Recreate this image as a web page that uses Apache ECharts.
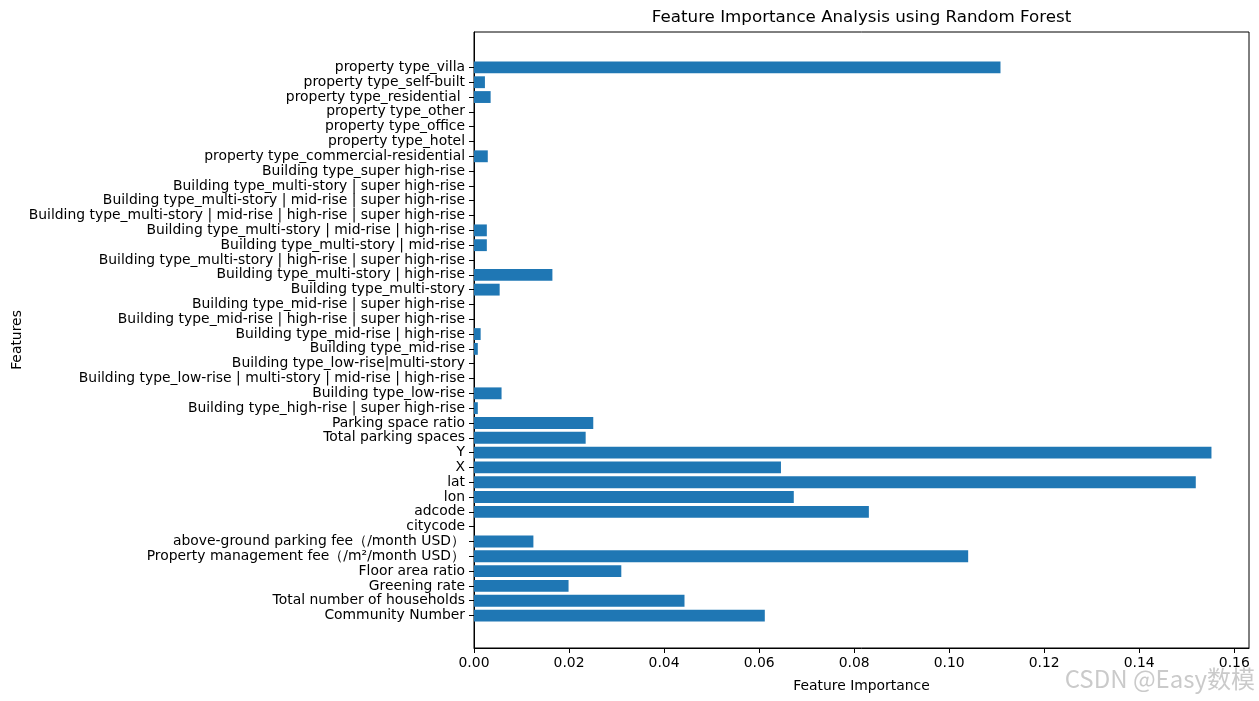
<!DOCTYPE html>
<html>
<head>
<meta charset="utf-8">
<script src="https://cdn.jsdelivr.net/npm/echarts@6/dist/echarts.min.js"></script>
<style>
html,body{margin:0;padding:0;background:#fff;}
#chart{width:1259px;height:701px;}
</style>
</head>
<body>
<div id="chart"></div>
<script>
// Categories (bottom to top)
const features = [
  "Community Number",
  "Total number of households",
  "Greening rate",
  "Floor area ratio",
  "Property management fee（/m²/month USD）",
  "above-ground parking fee（/month USD）",
  "citycode",
  "adcode",
  "lon",
  "lat",
  "X",
  "Y",
  "Total parking spaces",
  "Parking space ratio",
  "Building type_high-rise | super high-rise",
  "Building type_low-rise",
  "Building type_low-rise | multi-story | mid-rise | high-rise",
  "Building type_low-rise|multi-story",
  "Building type_mid-rise",
  "Building type_mid-rise | high-rise",
  "Building type_mid-rise | high-rise | super high-rise",
  "Building type_mid-rise | super high-rise",
  "Building type_multi-story",
  "Building type_multi-story | high-rise",
  "Building type_multi-story | high-rise | super high-rise",
  "Building type_multi-story | mid-rise",
  "Building type_multi-story | mid-rise | high-rise",
  "Building type_multi-story | mid-rise | high-rise | super high-rise",
  "Building type_multi-story | mid-rise | super high-rise",
  "Building type_multi-story | super high-rise",
  "Building type_super high-rise",
  "property type_commercial-residential",
  "property type_hotel",
  "property type_office",
  "property type_other",
  "property type_residential ",
  "property type_self-built",
  "property type_villa"
];
const importance = [
  0.0612, 0.0443, 0.0199, 0.0310, 0.1040, 0.0125, 0.0, 0.0831, 0.0673, 0.1519,
  0.0646, 0.1552, 0.0235, 0.0251, 0.0008, 0.0058, 0.0, 0.0, 0.0008, 0.0014,
  0.0, 0.0, 0.0054, 0.0165, 0.0, 0.0027, 0.0027, 0.0, 0.0, 0.0,
  0.0, 0.0029, 0.0, 0.0, 0.0, 0.0035, 0.0023, 0.1108
];
const xTickLabels = ["0.00","0.02","0.04","0.06","0.08","0.10","0.12","0.14","0.16"];
const titleText = "Feature Importance Analysis using Random Forest";
const xName = "Feature Importance";
const yName = "Features";
const watermark = "CSDN @Easy数模";

const FONT = "DejaVu Sans";
const X_MAX = 0.1631;
const chart = echarts.init(document.getElementById('chart'), null, {renderer: 'canvas'});
const plotLeft = 474, plotTop = 32, plotW = 775, plotH = 616;
const band = plotH / 41.58;
const barTop = plotTop + 1.89 * band;
const barH = band * features.length;

chart.setOption({
  animation: false,
  backgroundColor: '#fff',
  grid: [
    {left: plotLeft, top: plotTop, width: plotW, height: plotH, show: true,
     borderColor: '#000', borderWidth: 1, backgroundColor: 'transparent',
     containLabel: false, outerBoundsMode: 'none'},
    {left: plotLeft, top: barTop, width: plotW, height: barH,
     containLabel: false, outerBoundsMode: 'none'}
  ],
  xAxis: [
    {gridIndex: 0, type: 'value', min: 0, max: X_MAX, interval: 0.02,
     name: xName, nameLocation: 'middle', nameGap: 31,
     nameTextStyle: {fontFamily: FONT, fontSize: 13.9, color: '#000'},
     axisLine: {show: true, lineStyle: {color: '#000', width: 1}},
     axisTick: {show: true, length: 5, inside: false, lineStyle: {color: '#000'}},
     axisLabel: {fontFamily: FONT, fontSize: 13.9, color: '#000', margin: 8,
       formatter: (v) => { const i = Math.round(v / 0.02); return xTickLabels[i] !== undefined ? xTickLabels[i] : ''; },
       showMaxLabel: false},
     splitLine: {show: false}},
    {gridIndex: 1, type: 'value', min: 0, max: X_MAX, show: false, splitLine: {show: false}}
  ],
  yAxis: [
    {gridIndex: 0, type: 'value', min: 0, max: 1,
     name: yName, nameLocation: 'middle', nameGap: 450, nameRotate: 90,
     nameTextStyle: {fontFamily: FONT, fontSize: 13.9, color: '#000'},
     axisLine: {show: true, lineStyle: {color: '#000', width: 1}},
     axisTick: {show: false}, axisLabel: {show: false}, splitLine: {show: false}},
    {gridIndex: 1, type: 'category', data: features,
     axisLine: {show: false},
     axisTick: {show: true, alignWithLabel: true, length: 5, lineStyle: {color: '#000'}},
     axisLabel: {interval: 0, fontFamily: FONT, fontSize: 13.9, color: '#000', margin: 9},
     splitLine: {show: false}}
  ],
  series: [
    {type: 'bar', xAxisIndex: 1, yAxisIndex: 1, data: importance,
     barCategoryGap: '20%', itemStyle: {color: '#1f77b4'}}
  ],
  graphic: [
    {type: 'text', x: plotLeft + plotW / 2, y: 18,
     style: {text: titleText, fontFamily: FONT, fontSize: 16.7, fill: '#000',
             align: 'center', verticalAlign: 'middle'}},
    {type: 'text', right: 4, top: 667,
     style: {text: watermark, fontFamily: 'Noto Sans CJK SC', fontSize: 24, fill: 'rgba(150,150,150,0.5)'}}
  ]
});
</script>
</body>
</html>
